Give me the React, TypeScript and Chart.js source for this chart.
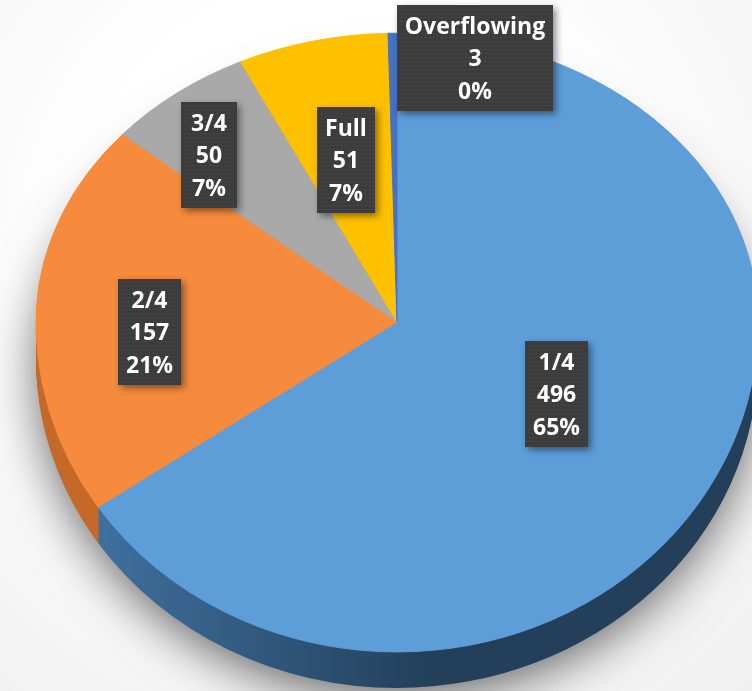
import { useEffect, useRef } from 'react';
import { Chart, registerables } from 'chart.js';

Chart.register(...registerables);

// ---- data ----
const categories = ['1/4', '2/4', '3/4', 'Full', 'Overflowing'];
const counts = [496, 157, 50, 51, 3];

// ---- styles ----
const sliceColors = ['#5d9ed9', '#f68b3d', '#a9a9a9', '#fec100', '#4472c4'];
const sideDark = ['#233f59', '#ad5a1c', '#747474', '#b88a00', '#2f528f'];
const sideLight = ['#3f71a0', '#c4692a', '#8a8a8a', '#c99a00', '#3a62a8'];
const labelLayout = [
  { r: 0.5, dx: 0, dy: -5, align: 'center' },
  { r: 0.686, dx: 0, dy: 21, align: 'center' },
  { r: 0.8, dx: -12, dy: 16, align: 'center' },
  { r: 0.6, dx: 0, dy: 6, align: 'center' },
  { r: 0.92, dx: 4, dy: 2, align: 'left' },
];

const W = 752;
const H = 691;
const TILT_TOP = 0.8;
const TILT_BOTTOM = 0.914;
const DEPTH = 36;

function percents(vals: number[]): number[] {
  const total = vals.reduce((a, b) => a + b, 0);
  const raw = vals.map((v) => (v / total) * 100);
  const fl = raw.map(Math.floor);
  const rem = 100 - fl.reduce((a, b) => a + b, 0);
  const order = raw.map((v, i) => ({ i, f: v - fl[i] })).sort((a, b) => b.f - a.f);
  for (let k = 0; k < rem; k++) fl[order[k].i]++;
  return fl;
}

function withHalf(ctx: CanvasRenderingContext2D, cx: number, cy: number, off: number, top: boolean, fn: () => void) {
  ctx.save();
  ctx.beginPath();
  if (top) ctx.rect(0, -20, W, cy + off + 20 + 0.5);
  else ctx.rect(0, cy + off - 0.5, W, H + 20);
  ctx.clip();
  ctx.translate(cx, cy + off);
  ctx.scale(1, top ? TILT_TOP : TILT_BOTTOM);
  ctx.translate(-cx, -cy);
  fn();
  ctx.restore();
}

const backgroundPlugin = {
  id: 'bg',
  beforeDraw(chart: any) {
    const ctx = chart.ctx as CanvasRenderingContext2D;
    ctx.save();
    const g = ctx.createRadialGradient(340, 240, 250, 340, 240, 720);
    g.addColorStop(0, '#ffffff');
    g.addColorStop(1, '#ebebeb');
    ctx.fillStyle = g;
    ctx.fillRect(0, 0, W, H);
    ctx.restore();
  },
};

const pie3dPlugin = {
  id: 'pie3d',
  beforeDatasetsDraw(chart: any) {
    const ctx = chart.ctx as CanvasRenderingContext2D;
    const arcs = chart.getDatasetMeta(0).data as any[];
    if (!arcs.length) return false;
    const cx = arcs[0].x;
    const cy = arcs[0].y;
    const r = arcs[0].outerRadius;

    // soft shadow under the pie
    ctx.save();
    ctx.shadowColor = 'rgba(0,0,0,0.6)';
    ctx.shadowBlur = 50;
    ctx.shadowOffsetY = 14;
    ctx.beginPath();
    ctx.ellipse(cx, cy + DEPTH - 4, r - 2, r * TILT_TOP, 0, Math.PI, 2 * Math.PI);
    ctx.ellipse(cx, cy + DEPTH - 4, r - 2, r * TILT_BOTTOM, 0, 0, Math.PI);
    ctx.closePath();
    ctx.fillStyle = sideDark[0];
    ctx.fill();
    ctx.restore();

    const sideFills = sideDark.map((d, i) => {
      const g = ctx.createLinearGradient(cx - r * 0.85, 0, cx + r * 0.1, 0);
      g.addColorStop(0, sideLight[i]);
      g.addColorStop(1, d);
      return g;
    });

    // extruded side
    for (let k = DEPTH; k >= 1; k--) {
      for (const top of [true, false]) {
        withHalf(ctx, cx, cy, k, top, () => {
          arcs.forEach((a, i) => {
            ctx.beginPath();
            ctx.moveTo(a.x, a.y);
            ctx.arc(a.x, a.y, a.outerRadius, a.startAngle, a.endAngle);
            ctx.closePath();
            ctx.fillStyle = sideFills[i];
            ctx.fill();
          });
        });
      }
    }

    // top face
    for (const top of [true, false]) {
      withHalf(ctx, cx, cy, 0, top, () => {
        arcs.forEach((a) => a.draw(ctx));
      });
    }
    return false;
  },
};

let dotPattern: CanvasPattern | null = null;
function getPattern(ctx: CanvasRenderingContext2D) {
  if (dotPattern) return dotPattern;
  const c = document.createElement('canvas');
  c.width = 4;
  c.height = 4;
  const p = c.getContext('2d')!;
  p.fillStyle = '#3c3c3c';
  p.fillRect(0, 0, 4, 4);
  p.fillStyle = '#515151';
  p.fillRect(1, 1, 1, 1);
  dotPattern = ctx.createPattern(c, 'repeat');
  return dotPattern;
}

const labelPlugin = {
  id: 'boxLabels',
  afterDraw(chart: any) {
    const ctx = chart.ctx as CanvasRenderingContext2D;
    const arcs = chart.getDatasetMeta(0).data as any[];
    const pct = percents(counts);
    const lineH = 32.5;
    const padX = 8;
    const padY = 4;
    ctx.save();
    ctx.font = 'bold 23px "Open Sans"';
    arcs.forEach((a, i) => {
      const lay = labelLayout[i];
      const mid = (a.startAngle + a.endAngle) / 2;
      const px = a.x + Math.cos(mid) * a.outerRadius * lay.r;
      let py = a.y + Math.sin(mid) * a.outerRadius * lay.r;
      py = a.y + (py - a.y) * (py < a.y ? TILT_TOP : TILT_BOTTOM);
      const ax = px + lay.dx;
      const ay = py + lay.dy;
      const lines = [categories[i], String(counts[i]), pct[i] + '%'];
      const tw = Math.max(...lines.map((l) => ctx.measureText(l).width));
      const bw = Math.round(Math.max(tw + padX * 2, 56));
      const bh = Math.round(lines.length * lineH + padY * 2);
      const bx = Math.round(lay.align === 'left' ? ax : ax - bw / 2);
      const by = Math.round(ay - bh / 2);
      ctx.save();
      ctx.shadowColor = 'rgba(0,0,0,0.45)';
      ctx.shadowBlur = 7;
      ctx.shadowOffsetX = 3;
      ctx.shadowOffsetY = 3;
      ctx.fillStyle = '#3c3c3c';
      ctx.fillRect(bx, by, bw, bh);
      ctx.restore();
      ctx.fillStyle = getPattern(ctx) as any;
      ctx.fillRect(bx, by, bw, bh);
      ctx.fillStyle = '#ffffff';
      ctx.textAlign = 'center';
      ctx.textBaseline = 'middle';
      lines.forEach((l, j) => {
        ctx.fillText(l, bx + bw / 2, by + padY + lineH * (j + 0.5) + 2);
      });
    });
    ctx.restore();
  },
};

export default function App() {
  const ref = useRef<HTMLCanvasElement>(null);
  useEffect(() => {
    document.body.style.margin = '0';
    const chart = new Chart(ref.current!, {
      type: 'pie',
      data: {
        labels: categories,
        datasets: [
          {
            data: counts,
            backgroundColor: sliceColors,
            borderColor: sliceColors,
            borderWidth: 1,
            radius: 361,
          } as any,
        ],
      },
      options: {
        responsive: false,
        animation: false,
        devicePixelRatio: 1,
        layout: { padding: { left: 42, bottom: 47 } },
        plugins: { legend: { display: false }, tooltip: { enabled: false } },
        events: [],
      },
      plugins: [backgroundPlugin, pie3dPlugin, labelPlugin],
    });
    return () => chart.destroy();
  }, []);
  return (
    <div style={{ width: W, height: H }}>
      <canvas ref={ref} width={W} height={H} style={{ display: 'block' }} />
    </div>
  );
}
